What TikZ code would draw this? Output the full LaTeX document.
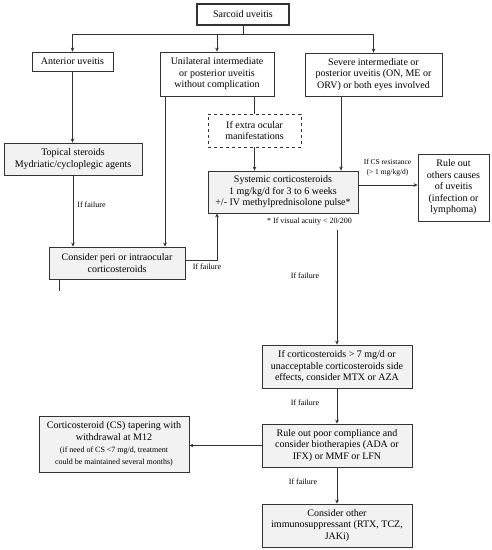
\documentclass[tikz,border=0pt]{standalone}
\usepackage{fontspec}
\setmainfont{Liberation Serif}
\usetikzlibrary{arrows.meta}
\definecolor{boxgray}{HTML}{F2F2F2}
\definecolor{linec}{HTML}{333333}
\tikzset{
  box/.style={draw=linec, line width=0.8pt, align=center, inner sep=0pt,
    font=\fontsize{10}{11.5}\selectfont, fill=white},
  gbox/.style={box, fill=boxgray},
  conn/.style={draw=linec, line width=0.6pt},
  arr/.style={conn, -{Stealth[length=4pt,width=3.6pt]}},
  lab/.style={font=\fontsize{8}{9}\selectfont, inner sep=0pt, align=center},
}
\begin{document}
\begin{tikzpicture}[x=1pt,y=-1pt]
\path[use as bounding box] (0,0) rectangle (492,550);

\node[box, line width=1.2pt, minimum width=92, minimum height=21] (sarc) at (243,14.5) {Sarcoid uveitis};
\node[box, minimum width=81, minimum height=19] (ant) at (72.5,61.5) {Anterior uveitis};
\node[box, minimum width=114, minimum height=44] (uni) at (217,74) {Unilateral intermediate\\or posterior uveitis\\without complication};
\node[box, minimum width=137, minimum height=43] (sev) at (373.5,74.5) {Severe intermediate or\\posterior uveitis (ON, ME or\\ORV) or both eyes involved};
\node[box, dashed, line width=0.6pt, minimum width=93, minimum height=33] (extra) at (254.5,130.5) {If extra ocular\\manifestations};
\node[gbox, minimum width=138, minimum height=32] (top) at (73,159) {Topical steroids\\Mydriatic/cycloplegic agents};
\node[gbox, minimum width=150, minimum height=42] (sys) at (283,192) {Systemic corticosteroids\\1 mg/kg/d for 3 to 6 weeks\\+/- IV methylprednisolone pulse*};
\node[box, minimum width=71, minimum height=67] (rule) at (453.5,187.5) {Rule out\\others causes\\of uveitis\\(infection or\\lymphoma)};
\node[gbox, minimum width=136, minimum height=32] (peri) at (117,263) {Consider peri or intraocular\\corticosteroids};
\node[gbox, minimum width=150, minimum height=43] (mtx) at (337,366.5) {If corticosteroids > 7 mg/d or\\unacceptable corticosteroids side\\effects, consider MTX or AZA};
\node[gbox, minimum width=150, minimum height=56] (taper) at (114,444) {Corticosteroid (CS) tapering with\\withdrawal at M12\\[1pt]{\fontsize{8}{10}\selectfont (if need of CS <7 mg/d, treatment}\\{\fontsize{8}{10}\selectfont could be maintained several months)}};
\node[gbox, minimum width=150, minimum height=43] (comp) at (337,445.5) {Rule out poor compliance and\\consider biotherapies (ADA or\\IFX) or MMF or LFN};
\node[gbox, minimum width=150, minimum height=43] (other) at (337,525.5) {Consider other\\immunosuppressant (RTX, TCZ,\\JAKi)};

% labels
\node[lab] (l1) at (91.5,205) {If failure};
\node[lab] (l2) at (207,267) {If failure};
\node[lab] (l3) at (305,276) {If failure};
\node[lab] (l4) at (305,403) {If failure};
\node[lab] (l5) at (303,482) {If failure};
\node[lab, font=\fontsize{7.5}{10}\selectfont] (l6) at (387.5,168) {If CS resistance\\(> 1 mg/kg/d)};
\node[lab] (foot) at (309.5,222) {* If visual acuity < 20/200};

% branching from top
\coordinate (b0) at ([yshift=-9]sarc.south);
\draw[conn] (sarc.south) -- (b0);
\draw[arr] (b0) -| (ant.north);
\draw[arr] (b0) -| (uni.north);
\draw[arr] (b0) -| (sev.north);

\draw[arr] (ant.south) -- (ant.south |- top.north);
\draw[arr] (top.south) -- (top.south |- peri.north);
\draw[arr] ([xshift=-52]uni.south) -- ([xshift=-52]uni.south |- peri.north);
\draw[conn] (uni.south -| extra.north) -- (extra.north);
\draw[arr] (extra.south) -- (extra.south |- sys.north);
\draw[arr] ([xshift=-32.5]sev.south) -- ([xshift=-32.5]sev.south |- sys.north);
\draw[arr] ([yshift=7]sys.east) -- ([yshift=7]sys.east -| rule.west);
\draw[arr] ([yshift=3]peri.east) -| ([xshift=-66]sys.south);
\coordinate (stub) at ([xshift=-58]peri.south);
\draw[conn] (stub) -- ++(0,12);
\coordinate (fs) at (mtx.north |- 0,230);
\draw[arr] (fs) -- (mtx.north);
\draw[arr] (mtx.south) -- (comp.north);
\draw[arr] (comp.west) -- (taper.east |- comp.west);
\draw[arr] (comp.south) -- (other.north);
\end{tikzpicture}
\end{document}
